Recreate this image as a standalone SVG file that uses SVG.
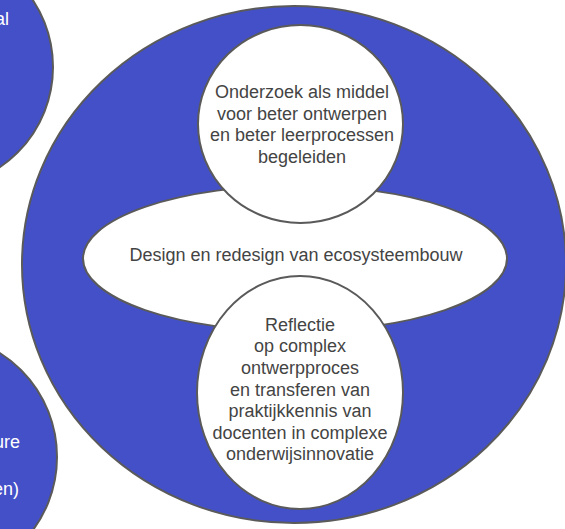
<svg xmlns="http://www.w3.org/2000/svg" width="565" height="529" viewBox="0 0 565 529">
  <style>
    .blue { fill: #4350c8; stroke: #5a5a5a; stroke-width: 2; }
    .white { fill: #ffffff; stroke: #5a5a5a; stroke-width: 2; }
    .lbl { font-family: "Liberation Sans", Arial, sans-serif; font-size: 18px; fill: #444444; text-anchor: middle; }
    .wlbl { font-family: "Liberation Sans", Arial, sans-serif; font-size: 18px; fill: #ffffff; text-anchor: end; }
  </style>
  <rect width="565" height="529" fill="#ffffff"/>
  <g id="left-top">
    <circle class="blue" cx="-68" cy="67" r="121"/>
    <text class="wlbl" x="9" y="25">al</text>
  </g>
  <g id="left-bottom">
    <circle class="blue" cx="-66" cy="457" r="123"/>
    <text class="wlbl" x="20" y="448">ure</text>
    <text class="wlbl" x="19" y="495">en)</text>
  </g>
  <g id="outer">
    <ellipse class="blue" cx="294" cy="264.5" rx="272" ry="258.5"/>
  </g>
  <g id="middle">
    <ellipse class="white" cx="295" cy="258.5" rx="212" ry="73"/>
    <text class="lbl" x="296" y="261">Design en redesign van ecosysteembouw</text>
  </g>
  <g id="top">
    <ellipse class="white" cx="300.5" cy="124" rx="102.5" ry="99"/>
    <text class="lbl" x="302" y="98">Onderzoek als middel</text>
    <text class="lbl" x="302" y="119.7">voor beter ontwerpen</text>
    <text class="lbl" x="302" y="141.3">en beter leerprocessen</text>
    <text class="lbl" x="302" y="163">begeleiden</text>
  </g>
  <g id="bottom">
    <ellipse class="white" cx="300" cy="392.5" rx="103" ry="116.5"/>
    <text class="lbl" x="300" y="330.7">Reflectie</text>
    <text class="lbl" x="300" y="352.3">op complex</text>
    <text class="lbl" x="300" y="374">ontwerpproces</text>
    <text class="lbl" x="300" y="395.5">en transferen van</text>
    <text class="lbl" x="300" y="417">praktijkkennis van</text>
    <text class="lbl" x="300" y="438.7">docenten in complexe</text>
    <text class="lbl" x="300" y="460">onderwijsinnovatie</text>
  </g>
  <g id="connectors"/>
</svg>
